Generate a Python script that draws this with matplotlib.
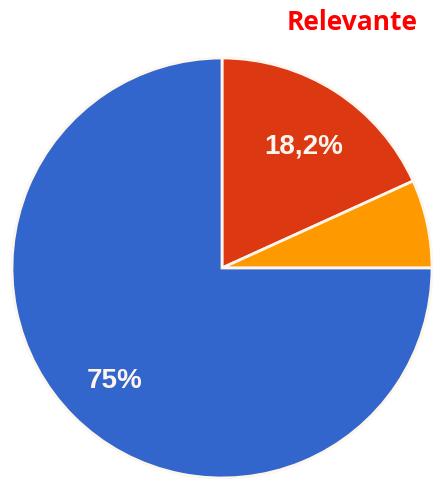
import matplotlib.pyplot as plt
import numpy as np

labels = ['Relevante', 'Outro', 'Não relevante']
values = [18.2, 6.8, 75.0]
pct_labels = ['18,2%', '', '75%']
colors = ['#DC3912', '#FF9900', '#3366CC']

fig = plt.figure(figsize=(4.33, 4.8), dpi=100)
ax = fig.add_axes([0, 0, 1, 1])

wedges, texts = ax.pie(values, colors=colors, startangle=90, counterclock=False,
                       center=(222, 212), radius=210, frame=True,
                       wedgeprops=dict(edgecolor='#fdf6ee', linewidth=2))
ax.set_xlim(0, 433)
ax.set_ylim(0, 480)
ax.set_aspect('equal')
ax.axis('off')

# percentage labels at ~0.72 of the radius, on each slice's middle angle
for w, lab in zip(wedges, pct_labels):
    mid = np.deg2rad((w.theta1 + w.theta2) / 2)
    x = 222 + 0.72 * 210 * np.cos(mid)
    y = 212 + 0.72 * 210 * np.sin(mid) - 6
    if lab:
        ax.text(x, y, lab, ha='center', va='center', color='#FDF5EE',
                fontsize=20, fontweight='bold', family='Liberation Sans')

fig.text(352 / 433, 1 - 23 / 480, 'Relevante', ha='center', va='center',
         color='#FF0000', fontsize=19, fontweight='bold', family='Open Sans')

fig.savefig('out.png', dpi=100)
